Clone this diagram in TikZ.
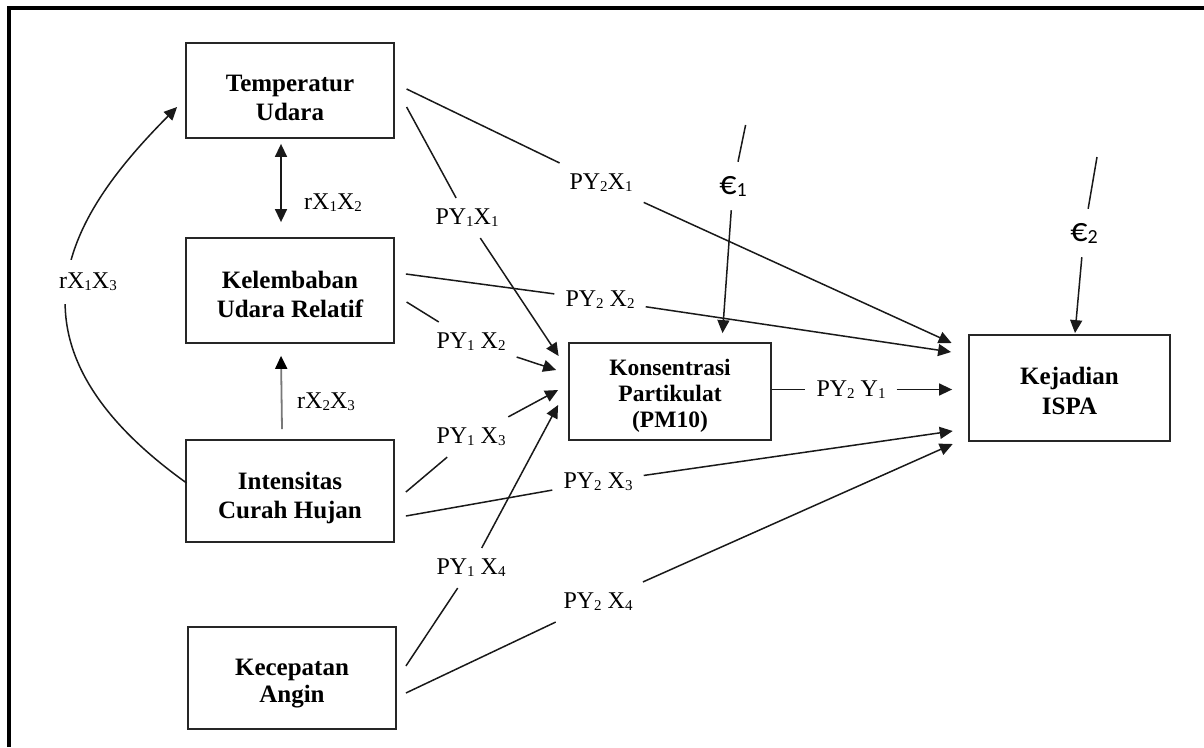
\documentclass[tikz,border=0pt]{standalone}
\usepackage{fontspec}
\setmainfont{Liberation Serif}
\newfontfamily\calibfont{Carlito}
\usetikzlibrary{arrows.meta,calc}
\newcommand\sbs[1]{\raisebox{-2pt}{\fontsize{15}{15}\selectfont #1}}
\newcommand\esub[1]{\raisebox{-2pt}{\fontsize{20}{20}\selectfont #1}}
\definecolor{lncol}{RGB}{25,25,25}
\definecolor{graycol}{RGB}{120,120,120}
\begin{document}
\begin{tikzpicture}[x=1pt,y=-1pt,
  box/.style={draw=black!85, line width=1.8pt, align=center, inner sep=2pt,
              font=\bfseries\fontsize{25}{29}\selectfont},
  lab/.style={font=\fontsize{24}{24}\selectfont, inner sep=11pt},
  elab/.style={font=\calibfont\fontsize{34}{34}\selectfont, inner sep=14pt},
  ln/.style={draw=lncol, line width=1.5pt},
  arr/.style={ln, -{Triangle[length=13pt,width=12pt]}},
  dbl/.style={ln, {Triangle[length=13pt,width=12pt]}-{Triangle[length=13pt,width=12pt]}},
  garr/.style={draw=graycol, line width=1.8pt, -{Triangle[length=13pt,width=12pt,color=black]}}
]
\useasboundingbox (0,0) rectangle (1204,747);
% frame
\draw[line width=3.6pt] (8.8,747) -- (8.8,8) -- (1204,8);

% boxes
\node[box, minimum width=208pt, minimum height=95pt] (T) at (290,90.2)
  {\rule{0pt}{32pt}Temperatur\\Udara};
\node[box, minimum width=208pt, minimum height=105pt] (K) at (290,290.5)
  {\rule{0pt}{25pt}Kelembaban\\Udara Relatif};
\node[box, minimum width=208pt, minimum height=102pt] (I) at (290,491)
  {\rule{0pt}{30.4pt}Intensitas\\Curah Hujan};
\node[box, minimum width=208pt, minimum height=102pt,
      font=\bfseries\fontsize{25}{27}\selectfont] (A) at (292,678)
  {\rule{0pt}{28.4pt}Kecepatan\\Angin};
\node[box, minimum width=202pt, minimum height=97pt,
      font=\bfseries\fontsize{23.5}{26}\selectfont] (P) at (670,391.5)
  {\rule{0pt}{24pt}Konsentrasi\\Partikulat\\(PM10)};
\node[box, minimum width=201pt, minimum height=106pt,
      font=\bfseries\fontsize{25}{30}\selectfont] (S) at (1069.5,388)
  {\rule{0pt}{24pt}Kejadian\\ISPA};

% curved correlation arrow
\draw[arr] ($(I.west)+(1.5,-8)$) .. controls (-14.6,339) and (74,211) .. ($(T.west)+(-8,16.8)$);

% labels
\node[lab] (l1) at (601,183) {PY\sbs{2}X\sbs{1}};
\node[lab] (l2) at (467,218) {PY\sbs{1}X\sbs{1}};
\node[lab] (l3) at (600,300) {PY\sbs{2} X\sbs{2}};
\node[lab] (l4) at (471,342) {PY\sbs{1} X\sbs{2}};
\node[lab] (l5) at (471,437) {PY\sbs{1} X\sbs{3}};
\node[lab] (l6) at (598,482) {PY\sbs{2} X\sbs{3}};
\node[lab] (l7) at (471,568) {PY\sbs{1} X\sbs{4}};
\node[lab] (l8) at (598,602) {PY\sbs{2} X\sbs{4}};
\node[lab] (l9) at (851,389.5) {PY\sbs{2} Y\sbs{1}};
\node[lab] (r12) at (333,203) {rX\sbs{1}X\sbs{2}};
\node[lab, fill=white, inner xsep=2pt, inner ysep=13pt] (r13) at (88,282) {rX\sbs{1}X\sbs{3}};
\node[lab] (r23) at (326,402) {rX\sbs{2}X\sbs{3}};
\node[elab] (e1) at (733,186) {€\esub{1}};
\node[elab] (e2) at (1084,233) {€\esub{2}};
\coordinate (e1t) at (745.6,125);
\coordinate (e2t) at (1097,157);

% correlations
\draw[dbl] ($(T.south)+(-9,5.3)$) -- ($(K.north)+(-9,-15)$);
\draw[garr] ($(I.north)+(-8,-10)$) -- ($(K.south)+(-9,12)$);

% paths
\draw[ln] ($(T.east)+(11.7,-1.2)$) -- (l1);
\draw[arr] (l1) -- ($(S.west)+(-16.5,-45)$);
\draw[ln] ($(T.east)+(11.7,16.8)$) -- (l2);
\draw[arr] (l2) -- ($(P.west)+(-9.5,-35.5)$);
\draw[ln] ($(K.east)+(11,-16.5)$) -- (l3);
\draw[arr] (l3) -- ($(S.west)+(-17,-36)$);
\draw[ln] ($(K.east)+(11.7,11.5)$) -- (l4);
\draw[arr] (l4) -- ($(P.west)+(-12,-21.5)$);
\draw[ln] ($(I.east)+(11,1)$) -- (l5);
\draw[arr] (l5) -- ($(P.west)+(-10,-1.5)$);
\draw[ln] ($(I.east)+(11,25)$) -- (l6);
\draw[arr] (l6) -- ($(S.west)+(-15.4,43)$);
\draw[ln] ($(A.east)+(9,-12)$) -- (l7);
\draw[arr] (l7) -- ($(P.west)+(-10,13.5)$);
\draw[ln] ($(A.east)+(9,15)$) -- (l8);
\draw[arr] (l8) -- ($(S.west)+(-15.4,56)$);
\draw[ln] ($(P.east)+(0,-2)$) -- (l9);
\draw[arr] (l9) -- ($(S.west)+(-16,1.5)$);
% error terms
\draw[ln] (e1t) -- (e1);
\draw[arr] (e1) -- ($(P.north)+(52.5,-9)$);
\draw[ln] (e2t) -- (e2);
\draw[arr] (e2) -- ($(S.north)+(5.5,-1)$);
\end{tikzpicture}
\end{document}
